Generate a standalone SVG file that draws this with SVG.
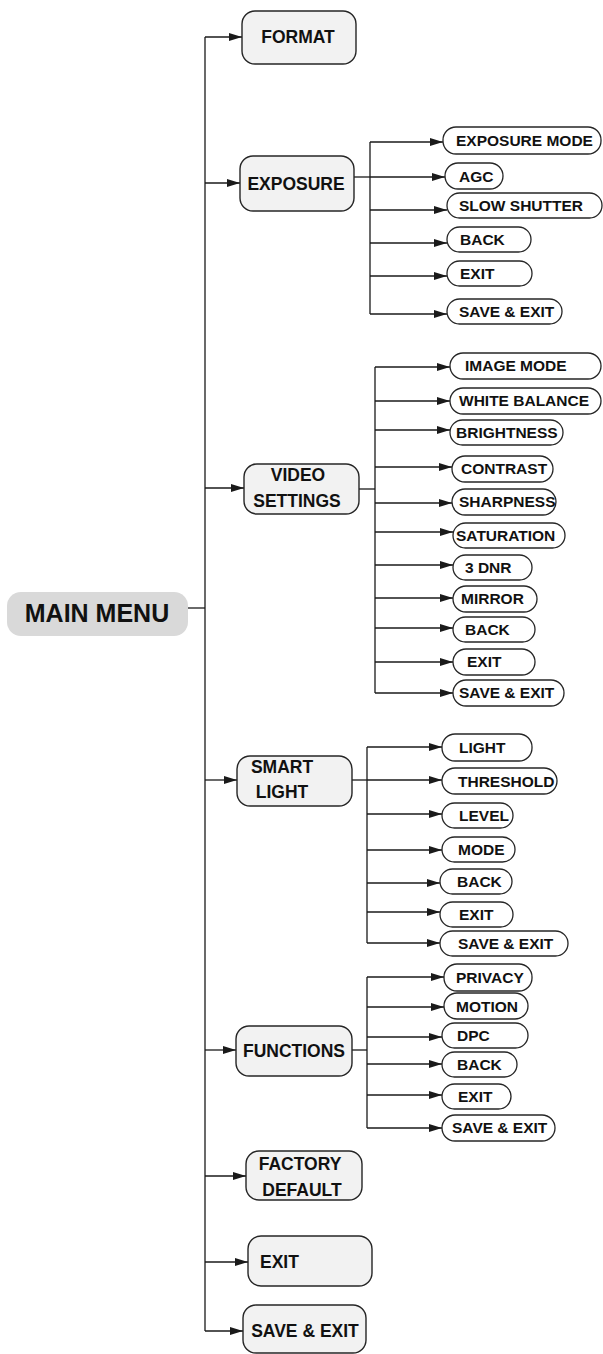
<svg xmlns="http://www.w3.org/2000/svg" width="603" height="1354" viewBox="0 0 603 1354">
<style>
.bg{fill:#ffffff}
.main{fill:#f2f2f2;stroke:#262626;stroke-width:1.4}
.child{fill:#ffffff;stroke:#262626;stroke-width:1.3}
.root{fill:#d9d9d9;stroke:none}
.ln{fill:none;stroke:#1a1a1a;stroke-width:1.3}
.arr{fill:none;stroke:#1a1a1a;stroke-width:1.3;marker-end:url(#ah)}
text{font-family:"Liberation Sans",Arial,sans-serif;font-weight:bold;fill:#111}
.t{font-size:17.5px}
.c{font-size:15.5px}
.r{font-size:25px}
</style>
<defs>
<marker id="ah" markerUnits="userSpaceOnUse" markerWidth="13" markerHeight="9" refX="13" refY="4.5" orient="auto">
<path d="M0,0.5 L13,4.5 L0,8.5 z" fill="#1a1a1a"/>
</marker>
</defs>
<rect class="bg" x="0" y="0" width="603" height="1354"/>

<g id="connectors">
<line class="ln" x1="188" y1="608" x2="205" y2="608"/>
<line class="ln" x1="205" y1="37" x2="205" y2="1331"/>
<line class="arr" x1="205" y1="37" x2="242" y2="37"/>
<line class="arr" x1="205" y1="183" x2="240" y2="183"/>
<line class="arr" x1="205" y1="488" x2="244" y2="488"/>
<line class="arr" x1="205" y1="780" x2="237" y2="780"/>
<line class="arr" x1="205" y1="1050" x2="236" y2="1050"/>
<line class="arr" x1="205" y1="1176" x2="246" y2="1176"/>
<line class="arr" x1="205" y1="1262" x2="248" y2="1262"/>
<line class="arr" x1="205" y1="1331" x2="243" y2="1331"/>

<line class="ln" x1="354" y1="177" x2="370" y2="177"/>
<line class="ln" x1="370" y1="142" x2="370" y2="314"/>
<line class="arr" x1="370" y1="142" x2="443" y2="142"/>
<line class="arr" x1="370" y1="177" x2="445" y2="177"/>
<line class="arr" x1="370" y1="210" x2="447" y2="210"/>
<line class="arr" x1="370" y1="243" x2="447" y2="243"/>
<line class="arr" x1="370" y1="276" x2="447" y2="276"/>
<line class="arr" x1="370" y1="314" x2="447" y2="314"/>

<line class="ln" x1="359" y1="489" x2="375" y2="489"/>
<line class="ln" x1="375" y1="367" x2="375" y2="693"/>
<line class="arr" x1="375" y1="367" x2="450" y2="367"/>
<line class="arr" x1="375" y1="401" x2="450" y2="401"/>
<line class="arr" x1="375" y1="430" x2="450" y2="430"/>
<line class="arr" x1="375" y1="467" x2="452" y2="467"/>
<line class="arr" x1="375" y1="503" x2="452" y2="503"/>
<line class="arr" x1="375" y1="532" x2="453" y2="532"/>
<line class="arr" x1="375" y1="565" x2="453" y2="565"/>
<line class="arr" x1="375" y1="598" x2="453" y2="598"/>
<line class="arr" x1="375" y1="628" x2="453" y2="628"/>
<line class="arr" x1="375" y1="662" x2="453" y2="662"/>
<line class="arr" x1="375" y1="693" x2="453" y2="693"/>

<line class="ln" x1="352" y1="780" x2="367" y2="780"/>
<line class="ln" x1="367" y1="747" x2="367" y2="943"/>
<line class="arr" x1="367" y1="747" x2="442" y2="747"/>
<line class="arr" x1="367" y1="780" x2="442" y2="780"/>
<line class="arr" x1="367" y1="814" x2="442" y2="814"/>
<line class="arr" x1="367" y1="850" x2="442" y2="850"/>
<line class="arr" x1="367" y1="883" x2="440" y2="883"/>
<line class="arr" x1="367" y1="912" x2="440" y2="912"/>
<line class="arr" x1="367" y1="943" x2="440" y2="943"/>

<line class="ln" x1="352" y1="1050" x2="367" y2="1050"/>
<line class="ln" x1="367" y1="977" x2="367" y2="1128"/>
<line class="arr" x1="367" y1="977" x2="444" y2="977"/>
<line class="arr" x1="367" y1="1007" x2="444" y2="1007"/>
<line class="arr" x1="367" y1="1037" x2="442" y2="1037"/>
<line class="arr" x1="367" y1="1064" x2="442" y2="1064"/>
<line class="arr" x1="367" y1="1095" x2="442" y2="1095"/>
<line class="arr" x1="367" y1="1128" x2="442" y2="1128"/>
</g>

<g id="main-menu">
<rect class="root" x="7" y="592" width="181" height="44" rx="14"/>
<text class="r" x="97" y="622" text-anchor="middle">MAIN MENU</text>
</g>

<g id="format"><rect class="main" x="242" y="11" width="114" height="53" rx="13"/><text class="t" x="298" y="43" text-anchor="middle">FORMAT</text></g>
<g id="exposure"><rect class="main" x="240" y="156" width="114" height="55" rx="13"/><text class="t" x="296" y="190" text-anchor="middle">EXPOSURE</text></g>
<g id="video-settings"><rect class="main" x="244" y="464" width="115" height="50" rx="13"/><text class="t" x="298" y="481" text-anchor="middle">VIDEO</text><text class="t" x="297" y="507" text-anchor="middle">SETTINGS</text></g>
<g id="smart-light"><rect class="main" x="237" y="756" width="115" height="50" rx="13"/><text class="t" x="282" y="773" text-anchor="middle">SMART</text><text class="t" x="282" y="798" text-anchor="middle">LIGHT</text></g>
<g id="functions"><rect class="main" x="236" y="1026" width="116" height="50" rx="13"/><text class="t" x="294" y="1057" text-anchor="middle">FUNCTIONS</text></g>
<g id="factory-default"><rect class="main" x="246" y="1151" width="116" height="49" rx="13"/><text class="t" x="300" y="1170" text-anchor="middle">FACTORY</text><text class="t" x="302" y="1196" text-anchor="middle">DEFAULT</text></g>
<g id="exit"><rect class="main" x="248" y="1236" width="124" height="50" rx="13"/><text class="t" x="260" y="1268">EXIT</text></g>
<g id="save-exit"><rect class="main" x="243" y="1305" width="123" height="48" rx="13"/><text class="t" x="305" y="1337" text-anchor="middle">SAVE &amp; EXIT</text></g>

<g id="exp-mode"><rect class="child" x="443" y="127" width="158" height="27" rx="13"/><text class="c" x="456" y="146">EXPOSURE MODE</text></g>
<g id="exp-agc"><rect class="child" x="445" y="163" width="58" height="26" rx="13"/><text class="c" x="459" y="182">AGC</text></g>
<g id="exp-slow"><rect class="child" x="447" y="193" width="155" height="25" rx="12.5"/><text class="c" x="459" y="211">SLOW SHUTTER</text></g>
<g id="exp-back"><rect class="child" x="447" y="227" width="84" height="25" rx="12.5"/><text class="c" x="460" y="245">BACK</text></g>
<g id="exp-exit"><rect class="child" x="447" y="261" width="85" height="25" rx="12.5"/><text class="c" x="460" y="279">EXIT</text></g>
<g id="exp-save"><rect class="child" x="447" y="299" width="115" height="25" rx="12.5"/><text class="c" x="459" y="317">SAVE &amp; EXIT</text></g>

<g id="vid-image"><rect class="child" x="450" y="353" width="151" height="26" rx="13"/><text class="c" x="465" y="371">IMAGE MODE</text></g>
<g id="vid-wb"><rect class="child" x="450" y="388" width="151" height="26" rx="13"/><text class="c" x="459" y="406">WHITE BALANCE</text></g>
<g id="vid-bright"><rect class="child" x="450" y="420" width="113" height="25" rx="12.5"/><text class="c" x="456" y="438">BRIGHTNESS</text></g>
<g id="vid-contrast"><rect class="child" x="452" y="456" width="101" height="26" rx="13"/><text class="c" x="461" y="474">CONTRAST</text></g>
<g id="vid-sharp"><rect class="child" x="452" y="489" width="104" height="26" rx="13"/><text class="c" x="459" y="507">SHARPNESS</text></g>
<g id="vid-sat"><rect class="child" x="453" y="523" width="112" height="25" rx="12.5"/><text class="c" x="456" y="541">SATURATION</text></g>
<g id="vid-dnr"><rect class="child" x="453" y="555" width="79" height="25" rx="12.5"/><text class="c" x="465" y="573">3 DNR</text></g>
<g id="vid-mirror"><rect class="child" x="453" y="586" width="84" height="26" rx="13"/><text class="c" x="461" y="604">MIRROR</text></g>
<g id="vid-back"><rect class="child" x="453" y="617" width="82" height="25" rx="12.5"/><text class="c" x="465" y="635">BACK</text></g>
<g id="vid-exit"><rect class="child" x="453" y="649" width="82" height="26" rx="13"/><text class="c" x="467" y="667">EXIT</text></g>
<g id="vid-save"><rect class="child" x="453" y="680" width="111" height="26" rx="13"/><text class="c" x="459" y="698">SAVE &amp; EXIT</text></g>

<g id="sl-light"><rect class="child" x="442" y="734" width="90" height="27" rx="13"/><text class="c" x="459" y="753">LIGHT</text></g>
<g id="sl-threshold"><rect class="child" x="442" y="768" width="115" height="26" rx="13"/><text class="c" x="458" y="787">THRESHOLD</text></g>
<g id="sl-level"><rect class="child" x="442" y="803" width="71" height="25" rx="12.5"/><text class="c" x="459" y="821">LEVEL</text></g>
<g id="sl-mode"><rect class="child" x="442" y="837" width="73" height="25" rx="12.5"/><text class="c" x="458" y="855">MODE</text></g>
<g id="sl-back"><rect class="child" x="440" y="869" width="72" height="25" rx="12.5"/><text class="c" x="457" y="887">BACK</text></g>
<g id="sl-exit"><rect class="child" x="440" y="902" width="73" height="25" rx="12.5"/><text class="c" x="459" y="920">EXIT</text></g>
<g id="sl-save"><rect class="child" x="440" y="931" width="128" height="25" rx="12.5"/><text class="c" x="458" y="949">SAVE &amp; EXIT</text></g>

<g id="fn-privacy"><rect class="child" x="444" y="964" width="88" height="27" rx="13"/><text class="c" x="456" y="983">PRIVACY</text></g>
<g id="fn-motion"><rect class="child" x="444" y="993" width="84" height="26" rx="13"/><text class="c" x="456" y="1012">MOTION</text></g>
<g id="fn-dpc"><rect class="child" x="442" y="1023" width="86" height="25" rx="12.5"/><text class="c" x="457" y="1041">DPC</text></g>
<g id="fn-back"><rect class="child" x="442" y="1052" width="75" height="25" rx="12.5"/><text class="c" x="457" y="1070">BACK</text></g>
<g id="fn-exit"><rect class="child" x="442" y="1084" width="69" height="25" rx="12.5"/><text class="c" x="458" y="1102">EXIT</text></g>
<g id="fn-save"><rect class="child" x="442" y="1115" width="113" height="26" rx="13"/><text class="c" x="452" y="1133">SAVE &amp; EXIT</text></g>
</svg>
